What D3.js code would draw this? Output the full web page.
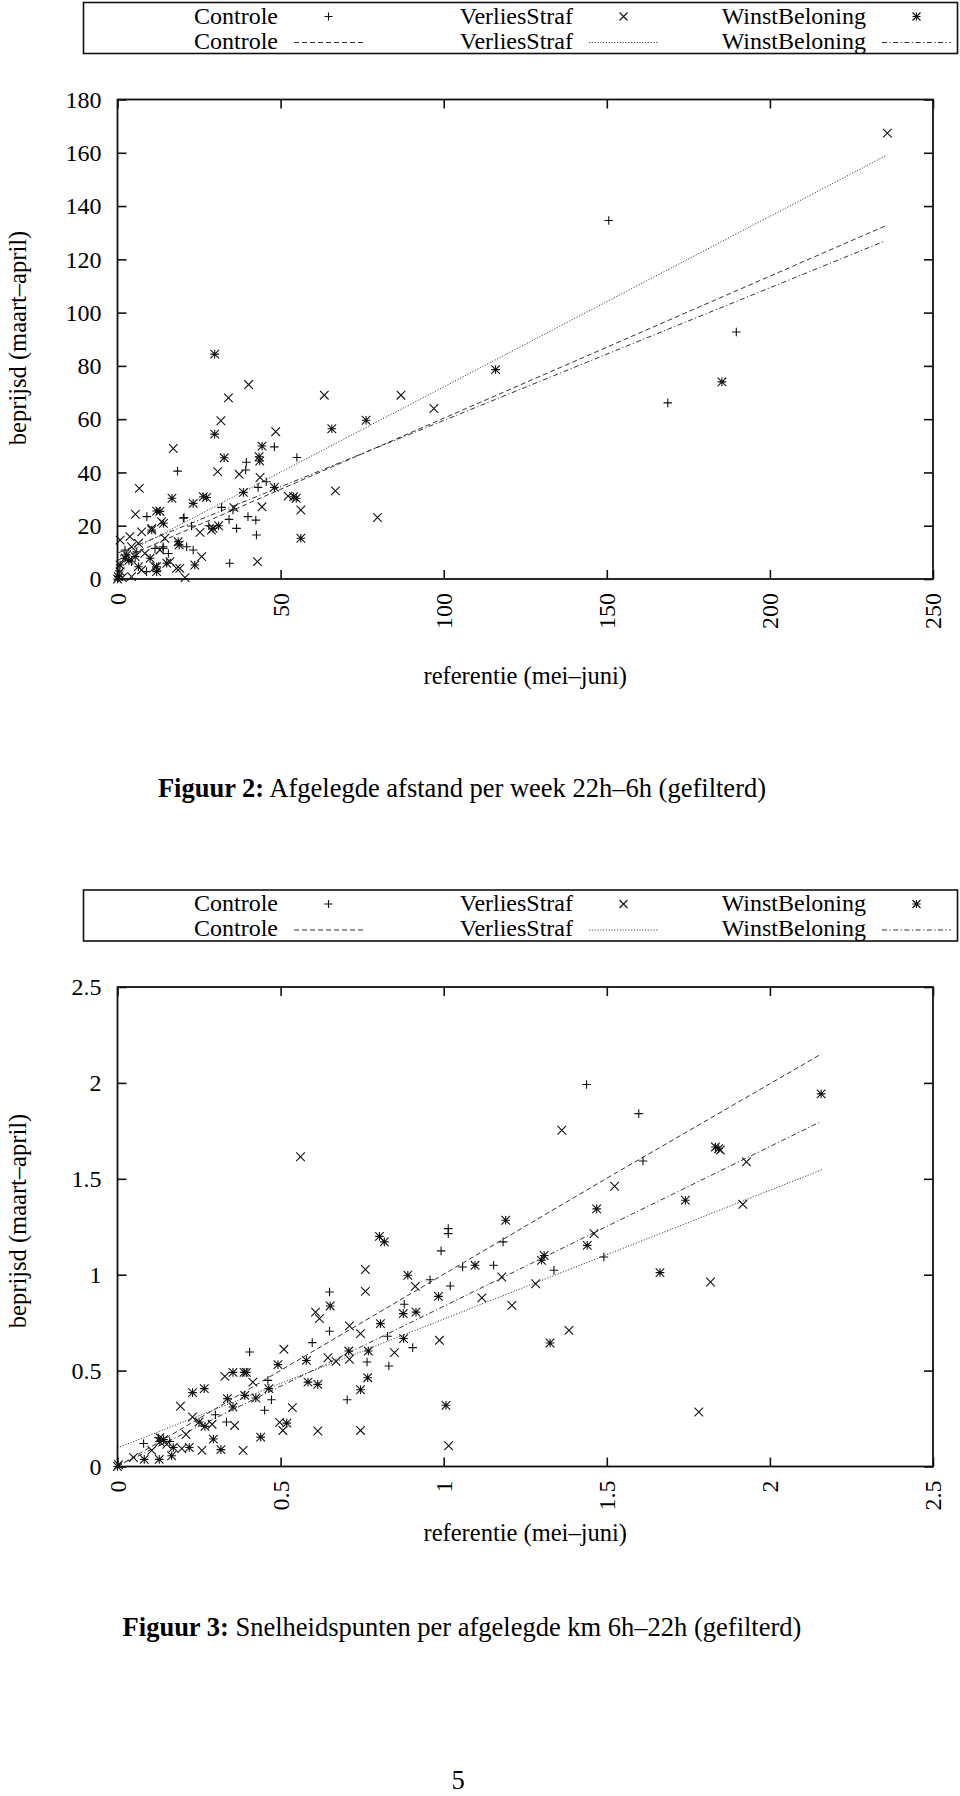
<!DOCTYPE html>
<html><head><meta charset="utf-8">
<script src="https://cdn.jsdelivr.net/npm/d3@7"></script>
<style>
body{margin:0;background:#fff}
svg{display:block}
text{font-family:"Liberation Serif","Times New Roman",serif;fill:#000}
</style>
</head><body>
<svg id="c" width="960" height="1796"></svg>
<script>
// ---------- DATA ----------
const seriesNames = ["Controle", "VerliesStraf", "WinstBeloning"];

// Figuur 2: Afgelegde afstand per week 22h–6h
const fig2Controle = [[150.6,134.6],[189.7,92.7],[168.7,66.1],[18.4,40.5],[39.5,43.8],[39.3,40.9],[48.1,49.6],[55.0,45.6],[40.0,23.4],[42.4,22.1],[42.6,16.5],[34.4,5.9],[36.5,19.0],[35.4,25.9],[20.2,22.8],[22.7,19.9],[21.2,12.1],[23.2,10.9],[9.0,23.4],[14.0,11.5],[43.1,34.4],[45.6,36.5],[31.9,26.9],[34.2,22.4],[11.5,11.5],[5.9,10.2],[2.3,10.9],[14.0,12.1],[8.9,2.75],[15.6,9.6],[4.3,6.5],[0.5,3.0],[20.4,23.1],[28.0,20.0]];
const fig2Verlies = [[17.1,49.0],[6.7,34.0],[5.5,24.3],[34.0,68.0],[40.2,73.0],[31.7,59.4],[30.7,40.3],[48.5,55.3],[63.4,69.0],[86.9,69.0],[97.0,64.0],[66.8,33.1],[79.7,23.1],[56.2,25.9],[44.3,27.1],[43.7,38.1],[42.9,6.5],[37.3,39.3],[20.7,0.5],[25.8,8.4],[19.1,4.0],[16.1,6.5],[25.3,17.5],[52.3,31.1],[35.7,26.8],[236.0,167.4],[28.8,18.4],[13.5,21.5],[0.8,14.6],[3.8,15.9],[7.4,17.7],[10.5,19.0],[4.3,12.1],[0.8,2.75],[4.3,0.9],[8.4,9.6],[11.5,4.6],[13.0,10.9],[14.5,15.3],[7.4,3.4],[18.1,4.0],[6.4,13.4],[1.5,0.5]];
const fig2Winst = [[29.8,84.4],[29.8,54.4],[32.7,45.5],[65.7,56.4],[76.2,59.6],[44.3,49.9],[43.4,45.9],[43.6,44.3],[16.7,30.3],[26.3,30.9],[27.3,30.6],[23.2,28.4],[38.6,32.5],[48.1,34.4],[54.0,30.9],[54.8,30.3],[12.0,25.5],[13.0,25.4],[14.1,20.9],[18.6,14.0],[18.9,12.8],[29.3,19.0],[56.2,15.3],[12.0,4.6],[23.7,5.25],[0,0],[115.9,78.6],[185.3,74.0],[15.1,5.9],[2.8,9.0],[2.3,7.8],[0.8,5.25],[0.25,0.9],[6.4,4.6],[10.0,7.8],[10.5,18.4],[12.0,2.75],[5.4,8.4],[31.0,20.0],[3.5,7.0]];
const fig2FitControle = [[0,7.0],[235.3,132.5]];
const fig2FitVerlies  = [[0,8.1],[235.7,159.0]];
const fig2FitWinst    = [[0,9.7],[235.0,126.75]];
const fig2XTicks = [0, 50, 100, 150, 200, 250];
const fig2XTickLabels = ["0", "50", "100", "150", "200", "250"];
const fig2YTicks = [0, 20, 40, 60, 80, 100, 120, 140, 160, 180];
const fig2YTickLabels = ["0", "20", "40", "60", "80", "100", "120", "140", "160", "180"];

// Figuur 3: Snelheidspunten per afgelegde km 6h–22h
const fig3Controle = [[0.08,0.12],[0.125,0.15],[0.16,0.13],[0.334,0.232],[0.405,0.597],[0.451,0.293],[0.472,0.348],[0.461,0.449],[0.597,0.646],[0.650,0.705],[0.650,0.910],[0.704,0.348],[0.765,0.545],[0.828,0.679],[0.832,0.524],[0.879,0.846],[0.905,0.620],[0.958,0.974],[0.992,1.124],[1.014,1.214],[1.014,1.240],[1.020,0.941],[1.058,1.040],[1.153,1.049],[1.182,1.171],[1.338,1.023],[1.491,1.092],[1.438,1.992],[1.598,1.840],[1.611,1.593],[0.30,0.27]];
const fig3Verlies = [[0.003,0.009],[0.049,0.047],[0.105,0.084],[0.151,0.116],[0.13,0.15],[0.197,0.093],[0.21,0.167],[0.193,0.314],[0.230,0.258],[0.259,0.084],[0.29,0.22],[0.329,0.470],[0.359,0.214],[0.385,0.084],[0.415,0.440],[0.510,0.611],[0.497,0.23],[0.507,0.188],[0.536,0.307],[0.561,1.615],[0.607,0.805],[0.619,0.771],[0.614,0.185],[0.645,0.567],[0.670,0.548],[0.711,0.733],[0.711,0.559],[0.745,0.693],[0.745,0.188],[0.760,0.913],[0.760,1.027],[0.849,0.594],[0.913,0.939],[0.987,0.658],[1.015,0.108],[1.117,0.879],[1.178,0.988],[1.209,0.840],[1.282,0.953],[1.362,1.753],[1.384,0.710],[1.461,1.214],[1.524,1.461],[1.782,0.284],[1.818,0.962],[1.848,1.65],[1.917,1.367],[1.928,1.588]];
const fig3Winst = [[0.0,0.0],[0.082,0.037],[0.128,0.037],[0.13,0.13],[0.141,0.14],[0.166,0.056],[0.171,0.099],[0.22,0.099],[0.230,0.385],[0.266,0.406],[0.25,0.232],[0.268,0.209],[0.294,0.143],[0.317,0.088],[0.337,0.354],[0.354,0.310],[0.354,0.491],[0.388,0.491],[0.395,0.491],[0.39,0.371],[0.424,0.357],[0.439,0.153],[0.464,0.406],[0.492,0.531],[0.519,0.226],[0.579,0.553],[0.584,0.440],[0.614,0.428],[0.652,0.837],[0.709,0.602],[0.745,0.400],[0.767,0.463],[0.769,0.602],[0.806,0.745],[0.803,1.200],[0.818,1.171],[0.876,0.797],[0.877,0.667],[0.890,0.997],[0.915,0.805],[0.984,0.887],[1.007,0.319],[1.096,1.049],[1.190,1.284],[1.308,1.10],[1.30,1.075],[1.326,0.644],[1.440,1.153],[1.469,1.343],[1.663,1.011],[1.741,1.388],[1.833,1.666],[1.843,1.657],[2.157,1.943]];
const fig3FitControle = [[0,0],[1.497,1.50],[2.159,2.152]];
const fig3FitVerlies  = [[0,0.097],[2.159,1.547]];
const fig3FitWinst    = [[0,0.002],[2.151,1.794]];
const fig3XTicks = [0, 0.5, 1, 1.5, 2, 2.5];
const fig3XTickLabels = ["0", "0.5", "1", "1.5", "2", "2.5"];
const fig3YTicks = [0, 0.5, 1, 1.5, 2, 2.5];
const fig3YTickLabels = ["0", "0.5", "1", "1.5", "2", "2.5"];

const xTitle = "referentie (mei–juni)";
const yTitle = "beprijsd (maart–april)";
const caption2Bold = "Figuur 2:";
const caption2Text = " Afgelegde afstand per week 22h–6h (gefilterd)";
const caption3Bold = "Figuur 3:";
const caption3Text = " Snelheidspunten per afgelegde km 6h–22h (gefilterd)";
const pageNumber = "5";

// ---------- DRAWING ----------
const svg = d3.select("#c");
const FS = 24, FS_TITLE = 24.5, FS_CAP = 26.5;
const lineStyles = [
  {dash: "5,3", color: "#333"},          // Controle: dashed
  {dash: "1.2,1.6", color: "#444"},      // VerliesStraf: dotted
  {dash: "5,2.5,1.2,2.5", color: "#333"} // WinstBeloning: dash-dot
];

function markerPath(kind, x, y, r) {
  const plus = `M${x - r},${y}H${x + r}M${x},${y - r}V${y + r}`;
  const cross = `M${x - r},${y - r}L${x + r},${y + r}M${x - r},${y + r}L${x + r},${y - r}`;
  if (kind === 0) return plus;
  if (kind === 1) return cross;
  return plus + cross;
}

function drawLegend(top) {
  const g = svg.append("g");
  g.append("rect").attr("x", 83.5).attr("y", top).attr("width", 874).attr("height", 51)
    .attr("fill", "none").attr("stroke", "#111").attr("stroke-width", 1.6);
  const textEnds = [278, 573, 866];
  const row1 = top + 13, row2 = top + 38;
  seriesNames.forEach((name, i) => {
    const te = textEnds[i];
    g.append("text").attr("x", te).attr("y", row1).attr("text-anchor", "end")
      .attr("dominant-baseline", "central").attr("font-size", FS).text(name);
    g.append("text").attr("x", te).attr("y", row2).attr("text-anchor", "end")
      .attr("dominant-baseline", "central").attr("font-size", FS).text(name);
    const s0 = te + 16, s1 = te + 85;
    g.append("path").attr("d", markerPath(i, (s0 + s1) / 2, row1 + 1, 4))
      .attr("stroke", "#111").attr("stroke-width", 1.1).attr("fill", "none");
    g.append("line").attr("x1", s0).attr("x2", s1).attr("y1", row2 + 2).attr("y2", row2 + 2)
      .attr("stroke", lineStyles[i].color).attr("stroke-width", 1).attr("stroke-dasharray", lineStyles[i].dash);
  });
}

function drawPanel(cfg) {
  const left = 117.5, right = 933, top = cfg.top, bottom = cfg.top + 479.5;
  const x = d3.scaleLinear().domain(cfg.xDomain).range([left, right]);
  const y = d3.scaleLinear().domain(cfg.yDomain).range([bottom, top]);
  const g = svg.append("g");

  const fmtX = d => cfg.xLabels[cfg.xTicks.indexOf(d)];
  const fmtY = d => cfg.yLabels[cfg.yTicks.indexOf(d)];
  const ax = g.append("g").attr("transform", `translate(0,${bottom})`)
    .call(d3.axisBottom(x).tickValues(cfg.xTicks).tickFormat(fmtX).tickSize(-9).tickSizeOuter(0));
  ax.selectAll("text").attr("transform", "rotate(-90)").attr("text-anchor", "end")
    .attr("x", -14).attr("y", 0).attr("dy", "0.33em");
  const ay = g.append("g").attr("transform", `translate(${left},0)`)
    .call(d3.axisLeft(y).tickValues(cfg.yTicks).tickFormat(fmtY).tickSize(-9).tickSizeOuter(0).tickPadding(16));
  const at = g.append("g").attr("transform", `translate(0,${top})`)
    .call(d3.axisTop(x).tickValues(cfg.xTicks).tickFormat("").tickSize(-9).tickSizeOuter(0));
  const ar = g.append("g").attr("transform", `translate(${right},0)`)
    .call(d3.axisRight(y).tickValues(cfg.yTicks).tickFormat("").tickSize(-9).tickSizeOuter(0));
  [ax, ay, at, ar].forEach(a => {
    a.select(".domain").remove();
    a.attr("font-family", null).attr("font-size", null);
    a.selectAll("text").attr("font-size", FS).attr("fill", "#000");
    a.selectAll("line").attr("stroke", "#111").attr("stroke-width", 1.6);
  });
  g.append("rect").attr("x", left).attr("y", top).attr("width", right - left).attr("height", bottom - top)
    .attr("fill", "none").attr("stroke", "#111").attr("stroke-width", 1.8);

  const line = d3.line().x(d => x(d[0])).y(d => y(d[1]));
  cfg.fits.forEach((f, i) => {
    g.append("path").attr("d", line(f)).attr("fill", "none")
      .attr("stroke", lineStyles[i].color).attr("stroke-width", 1)
      .attr("stroke-dasharray", lineStyles[i].dash);
  });

  cfg.series.forEach((pts, i) => {
    g.append("g").selectAll("path").data(pts).join("path")
      .attr("d", d => markerPath(i, x(d[0]), y(d[1]), 4.3))
      .attr("fill", "none").attr("stroke", "#111").attr("stroke-width", 1.1);
  });

  g.append("text").attr("x", (left + right) / 2).attr("y", cfg.xTitleY).attr("text-anchor", "middle")
    .attr("font-size", FS_TITLE).text(xTitle);
  g.append("text").attr("transform", `translate(17,${cfg.yTitleY}) rotate(-90)`)
    .attr("text-anchor", "middle").attr("dominant-baseline", "central").attr("font-size", FS_TITLE).text(yTitle);

  const cap = g.append("text").attr("x", 462).attr("y", cfg.captionY).attr("text-anchor", "middle").attr("font-size", FS_CAP);
  cap.append("tspan").attr("font-weight", "bold").text(cfg.capBold);
  cap.append("tspan").text(cfg.capText);
}

drawLegend(2.5);
drawPanel({
  top: 99.5, xDomain: [0, 250], yDomain: [0, 180],
  xTicks: fig2XTicks, xLabels: fig2XTickLabels, yTicks: fig2YTicks, yLabels: fig2YTickLabels,
  series: [fig2Controle, fig2Verlies, fig2Winst],
  fits: [fig2FitControle, fig2FitVerlies, fig2FitWinst],
  xTitleY: 684, yTitleY: 338, captionY: 797,
  capBold: caption2Bold, capText: caption2Text
});
drawLegend(890);
drawPanel({
  top: 987, xDomain: [0, 2.5], yDomain: [0, 2.5],
  xTicks: fig3XTicks, xLabels: fig3XTickLabels, yTicks: fig3YTicks, yLabels: fig3YTickLabels,
  series: [fig3Controle, fig3Verlies, fig3Winst],
  fits: [fig3FitControle, fig3FitVerlies, fig3FitWinst],
  xTitleY: 1541, yTitleY: 1221, captionY: 1636,
  capBold: caption3Bold, capText: caption3Text
});
svg.append("text").attr("x", 458).attr("y", 1789).attr("text-anchor", "middle").attr("font-size", FS_CAP).text(pageNumber);
</script>
</body></html>
